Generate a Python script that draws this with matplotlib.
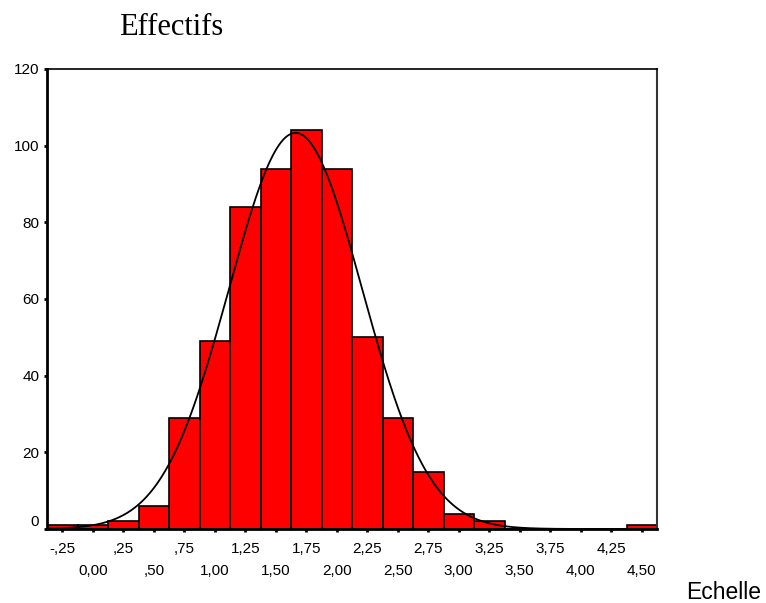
import numpy as np
import matplotlib
matplotlib.use('Agg')
import matplotlib.pyplot as plt
import matplotlib.transforms as mtransforms

# ------------------------------- données -------------------------------
centres = [-0.25, 0.00, 0.25, 0.50, 0.75, 1.00, 1.25, 1.50, 1.75, 2.00,
           2.25, 2.50, 2.75, 3.00, 3.25, 3.50, 3.75, 4.00, 4.25, 4.50]
effectifs = [1, 1, 2, 6, 29, 49, 84, 94, 104, 94,
             50, 29, 15, 4, 2, 0, 0, 0, 0, 1]
largeur = 0.25

etiq_haut = ['-,25', ',25', ',75', '1,25', '1,75', '2,25', '2,75', '3,25', '3,75', '4,25']
etiq_bas = ['0,00', ',50', '1,00', '1,50', '2,00', '2,50', '3,00', '3,50', '4,00', '4,50']
y_ticks = [0, 20, 40, 60, 80, 100, 120]
# ---------------------------------------------------------------------------------------------

plt.rcParams['font.family'] = ['Liberation Sans', 'DejaVu Sans']

fig = plt.figure(figsize=(7.66, 6.03), dpi=100)
ax = fig.add_axes([47/766, 1 - 529/603, 610/766, 460/603])

ax.bar(centres, effectifs, width=largeur, color='#ff0000', edgecolor='black', linewidth=1.2)

# courbe normale ajustée sur les effectifs (comme SPSS)
c = np.array(centres)
n = np.array(effectifs)
N = n.sum()
moy = (c * n).sum() / N
et = np.sqrt(((c - moy) ** 2 * n).sum() / N)
xs = np.linspace(-0.375, 4.625, 600)
ys = N * largeur * np.exp(-0.5 * ((xs - moy) / et) ** 2) / (et * np.sqrt(2 * np.pi))
ax.plot(xs, ys, color='black', linewidth=1.3)

ax.set_xlim(-0.375, 4.625)
ax.set_ylim(0, 120)

ax.set_xticks(centres[0::2])
ax.set_xticklabels(etiq_haut)
ax.set_xticks(centres[1::2], minor=True)
ax.set_xticklabels(etiq_bas, minor=True)
ax.tick_params(axis='x', which='both', direction='out', length=2.5, width=2,
               labelsize=11, color='black')
ax.tick_params(axis='x', which='major', pad=7)
ax.tick_params(axis='x', which='minor', pad=23)

ax.set_yticks(y_ticks)
ax.set_yticklabels([str(v) for v in y_ticks])
ax.tick_params(axis='y', direction='out', length=2.5, width=2, labelsize=11, pad=3)

# le "0" est légèrement relevé
lab0 = ax.get_yticklabels()[0]
lab0.set_transform(lab0.get_transform() + mtransforms.ScaledTranslation(0, 6/72, fig.dpi_scale_trans))

ax.spines['left'].set_linewidth(2)
ax.spines['bottom'].set_linewidth(2)
ax.spines['top'].set_linewidth(1.2)
ax.spines['right'].set_linewidth(1.5)
ax.spines['right'].set_color('#333333')

fig.text(171/766, 1 - 35/603, 'Effectifs', family='Liberation Serif', fontsize=22,
         ha='center', va='baseline')
fig.text(761/766, 1 - 599/603, 'Echelle', fontsize=16.5, ha='right', va='baseline')

fig.savefig('out.png', dpi=100)
